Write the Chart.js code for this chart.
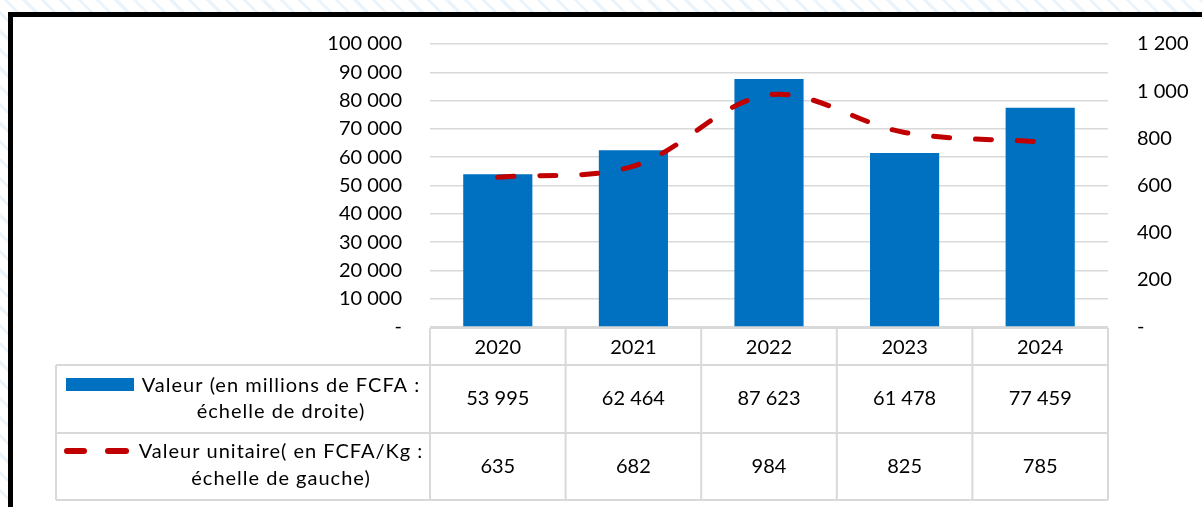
<!DOCTYPE html>
<html><head><meta charset="utf-8">
<script src="https://cdn.jsdelivr.net/npm/chart.js@4/dist/chart.umd.min.js"></script>
<style>
html,body{margin:0;padding:0;width:1202px;height:507px;overflow:hidden;}
body{background:repeating-linear-gradient(45deg,#ffffff 0px,#ffffff 10px,#eaf4fa 10px,#eaf4fa 13px);position:relative;}
#frame{position:absolute;left:8px;top:12px;width:1300px;height:600px;background:#fff;border-top:5px solid #000;border-left:5px solid #000;}
#wrap{position:absolute;left:0;top:0;width:1202px;height:507px;}
</style></head>
<body>
<div id="frame"></div>
<div id="wrap"><canvas id="c" width="1202" height="507"></canvas></div>
<script>
const categories = ["2020","2021","2022","2023","2024"];
const valeur = [53995, 62464, 87623, 61478, 77459];
const valeurUnitaire = [635, 682, 984, 825, 785];
const leftTicks = [0,10000,20000,30000,40000,50000,60000,70000,80000,90000,100000];
const rightTicks = [0,200,400,600,800,1000,1200];
const legendBar = ["Valeur (en millions de FCFA :", "échelle de droite)"];
const legendLine = ["Valeur unitaire( en FCFA/Kg :", "échelle de gauche)"];

const FONT = "Lato";
function fmt(v){ if(v===0) return "-"; return String(v).replace(/\B(?=(\d{3})+(?!\d))/g," "); }

const tablePlugin = {
  id:'table',
  afterDraw(chart){
    const ctx = chart.ctx, x = chart.scales.x, ca = chart.chartArea;
    const top = ca.bottom + 1, r1 = 365, r2 = 433, bot = 500, tl = 56;
    const L = ca.left, R = ca.right;
    ctx.save();
    ctx.strokeStyle = '#d9d9d9'; ctx.lineWidth = 2;
    ctx.beginPath();
    ctx.moveTo(L, top); ctx.lineTo(R, top);
    ctx.moveTo(tl, r1); ctx.lineTo(R, r1);
    ctx.moveTo(tl, r2); ctx.lineTo(R, r2);
    ctx.moveTo(tl, bot); ctx.lineTo(R, bot);
    ctx.moveTo(tl, r1); ctx.lineTo(tl, bot);
    const step = (R - L) / categories.length;
    for(let i=0;i<=categories.length;i++){
      const xx = L + step*i;
      ctx.moveTo(xx, top); ctx.lineTo(xx, bot);
    }
    ctx.stroke();
    ctx.fillStyle = '#000';
    ctx.font = '20px ' + FONT;
    ctx.textAlign = 'center'; ctx.textBaseline = 'middle';
    categories.forEach((c,i)=>{
      const cx = x.getPixelForValue(i);
      ctx.fillText(c, cx, (top+r1)/2+1);
      ctx.fillText(fmt(valeur[i]), cx, (r1+r2)/2);
      ctx.fillText(fmt(valeurUnitaire[i]), cx, (r2+bot)/2);
    });
    const tc = 281;
    ctx.letterSpacing = '1px';
    ctx.fillText(legendBar[0], tc, 386);
    ctx.fillText(legendBar[1], tc, 412);
    ctx.fillText(legendLine[0], tc, 452);
    ctx.fillText(legendLine[1], tc, 479);
    ctx.letterSpacing = '0px';
    // swatches
    ctx.fillStyle = '#0070C0';
    ctx.fillRect(66, 378, 68, 13);
    ctx.strokeStyle = '#C00000'; ctx.lineWidth = 6; ctx.lineCap = 'round';
    ctx.beginPath();
    ctx.moveTo(67, 451); ctx.lineTo(84, 451);
    ctx.moveTo(108, 451); ctx.lineTo(126, 451);
    ctx.stroke();
    ctx.restore();
  }
};

new Chart(document.getElementById('c'), {
  data:{
    labels: categories,
    datasets:[
      {type:'line', label: legendLine.join(' '), data: valeurUnitaire, yAxisID:'y1',
       borderColor:'#C00000', borderWidth:5, borderDash:[16,26], borderCapStyle:'round',
       pointRadius:0, tension:0.35, fill:false, order:0},
      {type:'bar', label: legendBar.join(' '), data: valeur, yAxisID:'y',
       backgroundColor:'#0070C0', barPercentage:0.51, categoryPercentage:1, order:1}
    ]
  },
  options:{
    responsive:false, animation:false,
    layout:{padding:{top:44,bottom:180,left:0,right:0}},
    plugins:{legend:{display:false}, tooltip:{enabled:false}},
    scales:{
      x:{display:true, grid:{display:false, drawTicks:false}, border:{display:false},
         ticks:{display:false}, afterFit(s){s.height=0;}},
      y:{position:'left', min:0, max:100000,
         afterBuildTicks(s){ s.ticks = leftTicks.map(v=>({value:v})); },
         afterFit(s){ s.width = 430; },
         grid:{color:'#d9d9d9', lineWidth:1.5, drawTicks:false},
         border:{display:false},
         ticks:{padding:28, color:'#000', font:{family:FONT,size:20}, callback:v=>fmt(v)}},
      y1:{position:'right', min:0, max:1200,
         afterBuildTicks(s){ s.ticks = rightTicks.map(v=>({value:v})); },
         afterFit(s){ s.width = 94; },
         grid:{display:false, drawTicks:false}, border:{display:false},
         ticks:{padding:29, color:'#000', font:{family:FONT,size:20}, callback:v=>fmt(v)}}
    }
  },
  plugins:[tablePlugin]
});
</script>
</body></html>
